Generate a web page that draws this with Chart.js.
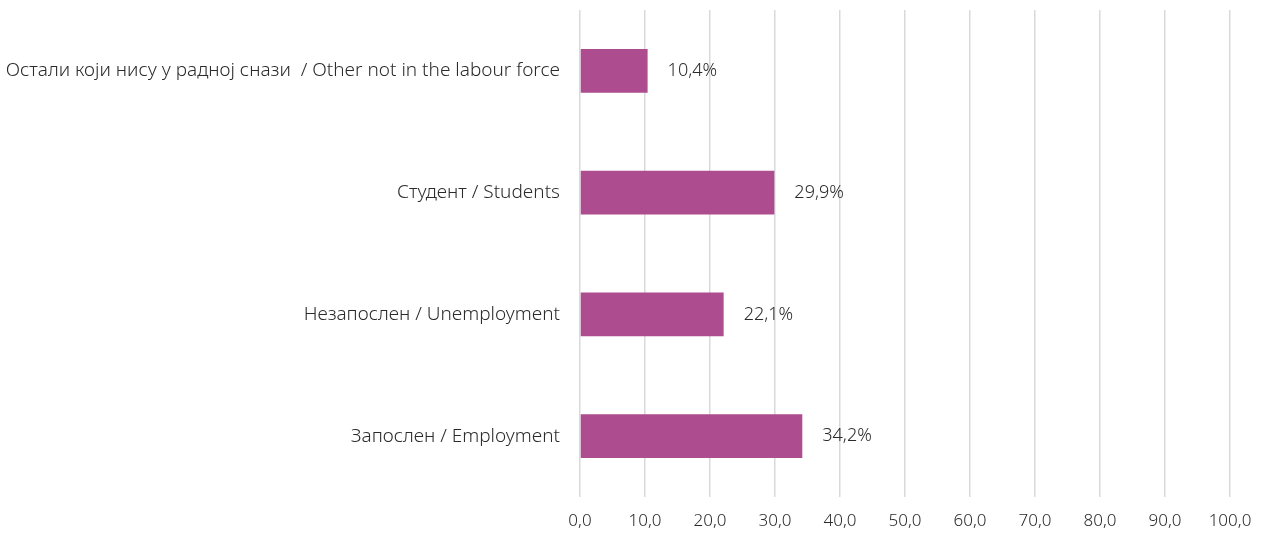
<!DOCTYPE html>
<html>
<head>
<meta charset="utf-8">
<script src="https://cdn.jsdelivr.net/npm/chart.js@4/dist/chart.umd.min.js"></script>
<style>
  html, body { margin: 0; padding: 0; background: #fff; }
  #wrap { width: 1261px; height: 533px; }
</style>
</head>
<body>
<div id="wrap"><canvas id="barChart"></canvas></div>
<script>
const categories = [
    'Остали који нису у радној снази  / Other not in the labour force',
    'Студент / Students',
    'Незапослен / Unemployment',
    'Запослен / Employment'
];
const values = [10.4, 29.9, 22.1, 34.2];
const xTicks = [0, 10, 20, 30, 40, 50, 60, 70, 80, 90, 100];

const textColor = '#2b2b2b';
const fontFamily = '"Noto Sans", "Open Sans", sans-serif';

function fmt(v, dec) {
    return v.toFixed(dec).replace('.', ',');
}

// etichette dei valori a destra delle barre
const valueLabels = {
    id: 'valueLabels',
    afterDatasetsDraw(chart) {
        const ctx = chart.ctx;
        const meta = chart.getDatasetMeta(0);
        ctx.save();
        ctx.font = '300 18px ' + fontFamily;
        ctx.fillStyle = textColor;
        ctx.textAlign = 'left';
        ctx.textBaseline = 'middle';
        meta.data.forEach((bar, i) => {
            ctx.fillText(fmt(values[i], 1) + '%', bar.x + 20, bar.y);
        });
        ctx.restore();
    }
};

document.addEventListener('DOMContentLoaded', () => {
    new Chart(document.getElementById('barChart'), {
        type: 'bar',
        data: {
            labels: categories,
            datasets: [{
                data: values,
                backgroundColor: '#ad4c8f',
                barPercentage: 0.6,
                categoryPercentage: 0.6
            }]
        },
        options: {
            indexAxis: 'y',
            responsive: true,
            maintainAspectRatio: false,
            animation: false,
            layout: { padding: { top: 10, right: 31, left: 0, bottom: 0 } },
            plugins: {
                legend: { display: false },
                tooltip: { enabled: false }
            },
            scales: {
                x: {
                    min: 0,
                    max: 100,
                    afterBuildTicks: scale => {
                        scale.ticks = xTicks.map(v => ({ value: v }));
                    },
                    afterFit: scale => {
                        scale.height = 36;
                        scale.paddingLeft = 0;
                        scale.paddingRight = 0;
                    },
                    border: { display: false },
                    grid: {
                        color: '#d9d9d9',
                        lineWidth: 1.5,
                        drawTicks: false
                    },
                    ticks: {
                        color: textColor,
                        font: { family: fontFamily, size: 17, weight: 300 },
                        padding: 14,
                        maxRotation: 0,
                        callback: v => fmt(v, 1)
                    }
                },
                y: {
                    afterFit: scale => {
                        scale.width = 580;
                        scale.paddingTop = 0;
                        scale.paddingBottom = 0;
                    },
                    border: { display: false },
                    grid: { display: false, drawTicks: false },
                    ticks: {
                        color: textColor,
                        font: { family: fontFamily, size: 19, weight: 300 },
                        padding: 20
                    }
                }
            }
        },
        plugins: [valueLabels]
    });
});
</script>
</body>
</html>
